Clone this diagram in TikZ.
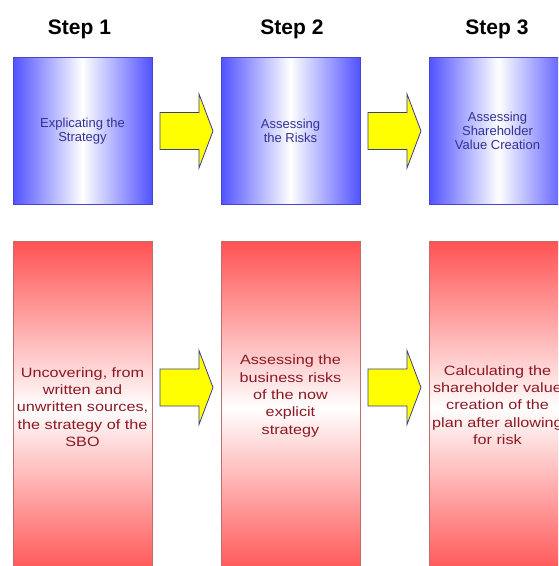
\documentclass[tikz,border=0pt]{standalone}
\usepackage{fontspec}
\setmainfont{Liberation Sans}
\newfontfamily\redfont[FakeStretch=1.2]{Liberation Sans}
\usetikzlibrary{calc}
\definecolor{boxblue}{RGB}{82,82,255}
\definecolor{blueline}{RGB}{70,70,200}
\definecolor{bluetext}{RGB}{50,50,150}
\definecolor{boxred}{RGB}{255,82,82}
\definecolor{redline}{RGB}{190,110,110}
\definecolor{redtext}{RGB}{140,25,35}
\definecolor{arrowline}{RGB}{60,60,140}
\definecolor{arrowfill}{RGB}{255,255,0}
\begin{document}
\begin{tikzpicture}[x=1pt,y=-1pt,
  bluebox/.style={draw=blueline, line width=0.8pt, left color=boxblue, right color=boxblue, middle color=white,
    minimum width=139pt, minimum height=147pt, inner sep=0pt},
  redbox/.style={draw=redline, line width=0.8pt, top color=boxred, bottom color=boxred, middle color=white,
    minimum width=139pt, minimum height=334pt, inner sep=0pt},
  bluelabel/.style={text=bluetext, align=center, inner sep=0pt, font=\fontsize{13}{14.3}\selectfont},
  redlabel/.style={text=redtext, align=center, inner sep=0pt, font=\redfont\fontsize{13.5}{17.3}\selectfont},
  steptitle/.style={anchor=base, inner sep=0pt, font=\bfseries\fontsize{21}{25}\selectfont},
  flowarrow/.pic={\draw[draw=arrowline, fill=arrowfill, line width=0.8pt, line join=miter]
    (0,-18.5) -- (39,-18.5) -- (39,-37) -- (53,0) -- (39,37) -- (39,18.5) -- (0,18.5) -- cycle;}
]
\useasboundingbox (0,0) rectangle (558,566);
\clip (0,0) rectangle (558,566);

% titles
\node[steptitle] (t1) at (79.5,34.5) {Step 1};
\node[steptitle] (t2) at (292,34.5) {Step 2};
\node[steptitle] (t3) at (497,34.5) {Step 3};

% blue boxes
\node[bluebox] (b1) at (82.5,130.5) {};
\node[bluebox] (b2) at (290.5,130.5) {};
\node[bluebox] (b3) at (498.5,130.5) {};
\node[bluelabel] (bl1) at (82.5,131) {Explicating the\\Strategy};
\node[bluelabel] (bl2) at (290.5,131) {Assessing\\the Risks};
\node[bluelabel] (bl3) at (497.5,131) {Assessing\\Shareholder\\Value Creation};

% red boxes
\node[redbox] (r1) at (82.5,408) {};
\node[redbox] (r2) at (290.5,408) {};
\node[redbox] (r3) at (498.5,408) {};
\node[redlabel] (rl1) at (82.5,407) {Uncovering, from\\written and\\unwritten sources,\\the strategy of the\\SBO};
\node[redlabel] (rl2) at (290.5,396) {Assessing the\\business risks\\of the now\\explicit\\strategy};
\node[redlabel] (rl3) at (497.5,405) {Calculating the\\shareholder value\\creation of the\\plan after allowing\\for risk};

% arrows
\pic (a1) at (160,131) {flowarrow};
\pic (a2) at (368,131) {flowarrow};
\pic (a3) at (160,387.5) {flowarrow};
\pic (a4) at (368,387.5) {flowarrow};
\end{tikzpicture}
\end{document}
